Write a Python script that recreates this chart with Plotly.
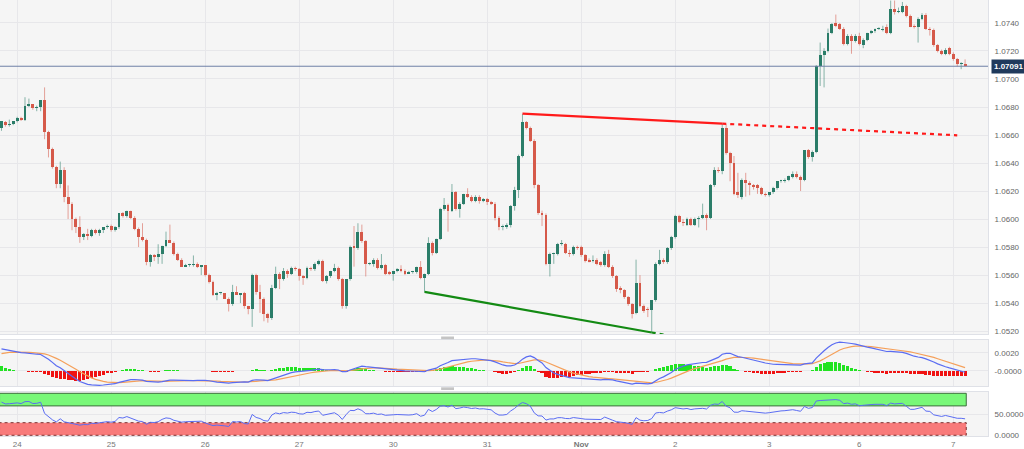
import plotly.graph_objects as go

# ---------------- hourly EUR/USD candles ----------------
opens = [
    1.0665, 1.0669, 1.0667, 1.0668, 1.0670, 1.0672, 1.0671, 1.0681, 1.0682, 1.0679,
    1.0680, 1.0685, 1.0662, 1.0650, 1.0637, 1.0625, 1.0635, 1.0616, 1.0611, 1.0600,
    1.0594, 1.0587, 1.0589, 1.0588, 1.0592, 1.0590, 1.0592, 1.0594, 1.0595, 1.0592,
    1.0594, 1.0604, 1.0602, 1.0606, 1.0601, 1.0593, 1.0587, 1.0585, 1.0569, 1.0574,
    1.0573, 1.0575, 1.0581, 1.0585, 1.0583, 1.0575, 1.0571, 1.0566, 1.0567, 1.0567,
    1.0568, 1.0566, 1.0567, 1.0560, 1.0555, 1.0546, 1.0547, 1.0547, 1.0543, 1.0539,
    1.0548, 1.0546, 1.0547, 1.0538, 1.0536, 1.0560, 1.0548, 1.0543, 1.0532, 1.0529,
    1.0551, 1.0561, 1.0557, 1.0563, 1.0561, 1.0565, 1.0564, 1.0559, 1.0558, 1.0565,
    1.0564, 1.0568, 1.0570, 1.0556, 1.0559, 1.0563, 1.0565, 1.0557, 1.0538, 1.0557,
    1.0581, 1.0579, 1.0591, 1.0584, 1.0568, 1.0568, 1.0571, 1.0565, 1.0567, 1.0562,
    1.0561, 1.0563, 1.0564, 1.0563, 1.0561, 1.0562, 1.0562, 1.0566, 1.0558, 1.0561,
    1.0583, 1.0576, 1.0586, 1.0607, 1.0610, 1.0606, 1.0619, 1.0607, 1.0611, 1.0618,
    1.0616, 1.0613, 1.0616, 1.0613, 1.0614, 1.0612, 1.0611, 1.0601, 1.0594, 1.0594,
    1.0596, 1.0609, 1.0621, 1.0645, 1.0669, 1.0665, 1.0656, 1.0624, 1.0604, 1.0603,
    1.0568, 1.0575, 1.0575, 1.0582, 1.0582, 1.0576, 1.0575, 1.0580, 1.0580, 1.0574,
    1.0571, 1.0570, 1.0571, 1.0569, 1.0567, 1.0575, 1.0566, 1.0559, 1.0551, 1.0549,
    1.0544, 1.0539, 1.0533, 1.0554, 1.0538, 1.0536, 1.0535, 1.0542, 1.0568, 1.0571,
    1.0569, 1.0579, 1.0587, 1.0602, 1.0598, 1.0596, 1.0600, 1.0596, 1.0600, 1.0601,
    1.0603, 1.0601, 1.0624, 1.0635, 1.0634, 1.0665, 1.0647, 1.0640, 1.0619, 1.0616,
    1.0628, 1.0626, 1.0624, 1.0624, 1.0622, 1.0618, 1.0617, 1.0619, 1.0622, 1.0627,
    1.0627, 1.0628, 1.0630, 1.0632, 1.0630, 1.0628, 1.0649, 1.0644, 1.0648, 1.0709,
    1.0717, 1.0720, 1.0733, 1.0740, 1.0739, 1.0736, 1.0725, 1.0731, 1.0727, 1.0731,
    1.0724, 1.0728, 1.0733, 1.0734, 1.0736, 1.0735, 1.0737, 1.0733, 1.0750, 1.0748,
    1.0748, 1.0752, 1.0745, 1.0738, 1.0737, 1.0743, 1.0746, 1.0736, 1.0735, 1.0724,
    1.0720, 1.0718, 1.0722, 1.0718, 1.0714, 1.0711, 1.0711,
]
highs = [
    1.0670, 1.0670, 1.0671, 1.0670, 1.0673, 1.0673, 1.0687, 1.0686, 1.0682, 1.0681,
    1.0685, 1.0694, 1.0663, 1.0651, 1.0638, 1.0641, 1.0637, 1.0624, 1.0612, 1.0601,
    1.0602, 1.0590, 1.0593, 1.0593, 1.0593, 1.0593, 1.0594, 1.0596, 1.0596, 1.0595,
    1.0604, 1.0605, 1.0606, 1.0606, 1.0602, 1.0594, 1.0597, 1.0586, 1.0575, 1.0575,
    1.0582, 1.0581, 1.0591, 1.0596, 1.0584, 1.0576, 1.0572, 1.0568, 1.0568, 1.0574,
    1.0569, 1.0567, 1.0567, 1.0561, 1.0556, 1.0548, 1.0548, 1.0547, 1.0544, 1.0553,
    1.0552, 1.0547, 1.0548, 1.0538, 1.0561, 1.0561, 1.0553, 1.0544, 1.0533, 1.0553,
    1.0566, 1.0562, 1.0565, 1.0564, 1.0566, 1.0566, 1.0565, 1.0560, 1.0566, 1.0566,
    1.0569, 1.0571, 1.0571, 1.0560, 1.0563, 1.0568, 1.0566, 1.0558, 1.0557, 1.0581,
    1.0595, 1.0597, 1.0596, 1.0585, 1.0569, 1.0572, 1.0572, 1.0575, 1.0568, 1.0563,
    1.0563, 1.0565, 1.0567, 1.0564, 1.0563, 1.0563, 1.0566, 1.0570, 1.0561, 1.0587,
    1.0584, 1.0586, 1.0608, 1.0615, 1.0611, 1.0625, 1.0620, 1.0612, 1.0618, 1.0622,
    1.0617, 1.0617, 1.0617, 1.0615, 1.0615, 1.0613, 1.0612, 1.0602, 1.0596, 1.0597,
    1.0610, 1.0623, 1.0646, 1.0675, 1.0670, 1.0666, 1.0657, 1.0625, 1.0606, 1.0604,
    1.0576, 1.0576, 1.0583, 1.0585, 1.0583, 1.0578, 1.0581, 1.0581, 1.0581, 1.0575,
    1.0572, 1.0574, 1.0572, 1.0570, 1.0577, 1.0578, 1.0567, 1.0560, 1.0552, 1.0550,
    1.0545, 1.0540, 1.0571, 1.0560, 1.0539, 1.0537, 1.0542, 1.0569, 1.0578, 1.0572,
    1.0580, 1.0588, 1.0603, 1.0603, 1.0600, 1.0601, 1.0601, 1.0601, 1.0602, 1.0611,
    1.0604, 1.0625, 1.0637, 1.0637, 1.0668, 1.0668, 1.0648, 1.0645, 1.0633, 1.0629,
    1.0633, 1.0627, 1.0625, 1.0625, 1.0623, 1.0619, 1.0619, 1.0623, 1.0627, 1.0628,
    1.0629, 1.0631, 1.0634, 1.0634, 1.0631, 1.0649, 1.0650, 1.0649, 1.0710, 1.0726,
    1.0722, 1.0736, 1.0740, 1.0746, 1.0740, 1.0737, 1.0732, 1.0732, 1.0732, 1.0733,
    1.0729, 1.0733, 1.0735, 1.0736, 1.0737, 1.0738, 1.0739, 1.0756, 1.0756, 1.0751,
    1.0755, 1.0753, 1.0746, 1.0739, 1.0744, 1.0747, 1.0747, 1.0737, 1.0736, 1.0725,
    1.0721, 1.0722, 1.0723, 1.0719, 1.0715, 1.0712, 1.0714,
]
lows = [
    1.0663, 1.0666, 1.0666, 1.0667, 1.0669, 1.0670, 1.0670, 1.0680, 1.0678, 1.0677,
    1.0677, 1.0657, 1.0644, 1.0636, 1.0622, 1.0622, 1.0612, 1.0600, 1.0592, 1.0590,
    1.0583, 1.0585, 1.0585, 1.0587, 1.0589, 1.0588, 1.0590, 1.0593, 1.0591, 1.0591,
    1.0593, 1.0601, 1.0601, 1.0600, 1.0592, 1.0580, 1.0584, 1.0567, 1.0566, 1.0570,
    1.0568, 1.0568, 1.0580, 1.0583, 1.0574, 1.0570, 1.0566, 1.0566, 1.0566, 1.0566,
    1.0565, 1.0560, 1.0559, 1.0554, 1.0545, 1.0542, 1.0546, 1.0543, 1.0534, 1.0538,
    1.0546, 1.0540, 1.0536, 1.0532, 1.0523, 1.0546, 1.0533, 1.0527, 1.0526, 1.0528,
    1.0550, 1.0550, 1.0556, 1.0558, 1.0560, 1.0563, 1.0556, 1.0553, 1.0557, 1.0563,
    1.0563, 1.0567, 1.0555, 1.0554, 1.0558, 1.0562, 1.0556, 1.0536, 1.0536, 1.0556,
    1.0566, 1.0578, 1.0583, 1.0559, 1.0567, 1.0566, 1.0564, 1.0564, 1.0560, 1.0560,
    1.0556, 1.0562, 1.0562, 1.0560, 1.0561, 1.0561, 1.0561, 1.0557, 1.0548, 1.0560,
    1.0574, 1.0575, 1.0585, 1.0606, 1.0591, 1.0605, 1.0606, 1.0601, 1.0610, 1.0615,
    1.0612, 1.0612, 1.0611, 1.0612, 1.0610, 1.0610, 1.0599, 1.0592, 1.0592, 1.0593,
    1.0594, 1.0606, 1.0615, 1.0644, 1.0664, 1.0655, 1.0622, 1.0603, 1.0595, 1.0567,
    1.0559, 1.0568, 1.0574, 1.0581, 1.0575, 1.0573, 1.0574, 1.0578, 1.0573, 1.0569,
    1.0569, 1.0569, 1.0567, 1.0566, 1.0566, 1.0565, 1.0558, 1.0548, 1.0547, 1.0543,
    1.0538, 1.0529, 1.0532, 1.0537, 1.0533, 1.0530, 1.0519, 1.0541, 1.0567, 1.0568,
    1.0568, 1.0578, 1.0586, 1.0597, 1.0595, 1.0595, 1.0595, 1.0595, 1.0594, 1.0600,
    1.0592, 1.0600, 1.0623, 1.0633, 1.0632, 1.0646, 1.0627, 1.0617, 1.0615, 1.0614,
    1.0616, 1.0617, 1.0621, 1.0618, 1.0617, 1.0616, 1.0616, 1.0618, 1.0621, 1.0626,
    1.0626, 1.0627, 1.0629, 1.0629, 1.0620, 1.0627, 1.0643, 1.0641, 1.0647, 1.0695,
    1.0694, 1.0719, 1.0732, 1.0737, 1.0735, 1.0724, 1.0724, 1.0718, 1.0726, 1.0724,
    1.0722, 1.0727, 1.0732, 1.0733, 1.0735, 1.0734, 1.0732, 1.0732, 1.0746, 1.0747,
    1.0747, 1.0744, 1.0737, 1.0736, 1.0726, 1.0742, 1.0735, 1.0731, 1.0723, 1.0719,
    1.0717, 1.0717, 1.0717, 1.0713, 1.0709, 1.0707, 1.0709,
]
closes = [
    1.0670, 1.0667, 1.0668, 1.0670, 1.0672, 1.0671, 1.0681, 1.0682, 1.0679, 1.0680,
    1.0685, 1.0662, 1.0650, 1.0637, 1.0625, 1.0635, 1.0616, 1.0611, 1.0600, 1.0594,
    1.0587, 1.0589, 1.0588, 1.0592, 1.0590, 1.0592, 1.0594, 1.0595, 1.0592, 1.0594,
    1.0604, 1.0602, 1.0606, 1.0601, 1.0593, 1.0587, 1.0585, 1.0569, 1.0574, 1.0573,
    1.0575, 1.0581, 1.0585, 1.0583, 1.0575, 1.0571, 1.0566, 1.0567, 1.0567, 1.0568,
    1.0566, 1.0567, 1.0560, 1.0555, 1.0546, 1.0547, 1.0547, 1.0543, 1.0539, 1.0548,
    1.0546, 1.0547, 1.0538, 1.0536, 1.0560, 1.0548, 1.0543, 1.0532, 1.0529, 1.0551,
    1.0561, 1.0557, 1.0563, 1.0561, 1.0565, 1.0564, 1.0559, 1.0558, 1.0565, 1.0564,
    1.0568, 1.0570, 1.0556, 1.0559, 1.0563, 1.0565, 1.0557, 1.0538, 1.0557, 1.0580,
    1.0579, 1.0591, 1.0584, 1.0568, 1.0568, 1.0571, 1.0565, 1.0567, 1.0561, 1.0561,
    1.0563, 1.0564, 1.0563, 1.0561, 1.0562, 1.0563, 1.0566, 1.0558, 1.0561, 1.0583,
    1.0576, 1.0586, 1.0607, 1.0610, 1.0606, 1.0619, 1.0607, 1.0611, 1.0618, 1.0616,
    1.0613, 1.0616, 1.0613, 1.0614, 1.0612, 1.0611, 1.0601, 1.0594, 1.0594, 1.0596,
    1.0609, 1.0621, 1.0645, 1.0669, 1.0665, 1.0656, 1.0624, 1.0604, 1.0603, 1.0568,
    1.0575, 1.0575, 1.0582, 1.0582, 1.0576, 1.0575, 1.0580, 1.0579, 1.0574, 1.0570,
    1.0569, 1.0571, 1.0568, 1.0567, 1.0575, 1.0566, 1.0559, 1.0550, 1.0549, 1.0544,
    1.0539, 1.0532, 1.0554, 1.0538, 1.0534, 1.0535, 1.0542, 1.0568, 1.0571, 1.0569,
    1.0579, 1.0587, 1.0602, 1.0598, 1.0597, 1.0600, 1.0596, 1.0600, 1.0601, 1.0603,
    1.0601, 1.0624, 1.0635, 1.0634, 1.0665, 1.0647, 1.0640, 1.0618, 1.0617, 1.0628,
    1.0626, 1.0624, 1.0623, 1.0622, 1.0618, 1.0617, 1.0619, 1.0622, 1.0627, 1.0627,
    1.0628, 1.0631, 1.0632, 1.0630, 1.0628, 1.0649, 1.0644, 1.0648, 1.0709, 1.0717,
    1.0720, 1.0733, 1.0739, 1.0738, 1.0736, 1.0725, 1.0731, 1.0727, 1.0731, 1.0725,
    1.0728, 1.0733, 1.0734, 1.0736, 1.0736, 1.0736, 1.0733, 1.0750, 1.0748, 1.0748,
    1.0752, 1.0745, 1.0737, 1.0737, 1.0743, 1.0746, 1.0736, 1.0735, 1.0724, 1.0720,
    1.0718, 1.0721, 1.0718, 1.0714, 1.0711, 1.0711, 1.07091,
]

# day separators (bar index of each day's first candle) and their labels
day_ticks = [4, 28, 52, 76, 100, 124, 148, 172, 196, 219, 243]
day_labels = ["24", "25", "26", "27", "30", "31", "<b>Nov</b>", "2", "3", "6", "7"]

price_ticks = [1.0520, 1.0540, 1.0560, 1.0580, 1.0600, 1.0620,
               1.0640, 1.0660, 1.0680, 1.0700, 1.0720, 1.0740]
last_price = 1.07091

# analyst trend lines
resist_x = [133, 184]
resist_y = [1.06752, 1.06681]
resist_ext_x = [184, 244]
resist_ext_y = [1.06681, 1.06598]
support_x = [108, 166]
support_y = [1.0548, 1.0519]
support_ext_x = [166, 244]
support_ext_y = [1.0519, 1.0480]

# indicator settings and the indicator state before the first visible bar
macd_fast, macd_slow, macd_signal = 12, 26, 9
ema_fast_seed, ema_slow_seed, signal_seed = 1.0653, 1.0628, 0.0018
rsi_period = 14
rsi_gain_seed, rsi_loss_seed = 0.00030, 0.00009
rsi_high, rsi_low = 70, 30

# ---------------- indicators derived from the closes ----------------
n = len(closes)
idx = list(range(n))

a_f, a_s, a_g = 2 / (macd_fast + 1), 2 / (macd_slow + 1), 2 / (macd_signal + 1)
ef, es, sg = ema_fast_seed, ema_slow_seed, signal_seed
macd, signal, hist = [], [], []
for c in closes:
    ef += a_f * (c - ef)
    es += a_s * (c - es)
    m = ef - es
    sg += a_g * (m - sg)
    macd.append(m)
    signal.append(sg)
    hist.append(m - sg)

rsi = []
ag, al = rsi_gain_seed, rsi_loss_seed
prev = opens[0]
for c in closes:
    ch = c - prev
    ag = (ag * (rsi_period - 1) + max(ch, 0)) / rsi_period
    al = (al * (rsi_period - 1) + max(-ch, 0)) / rsi_period
    rsi.append(100 - 100 / (1 + ag / al) if al > 0 else 100)
    prev = c

# ---------------- figure ----------------
UP, DOWN = "#2b7d69", "#d65a4a"
UP_WICK, DOWN_WICK = "rgba(43,125,105,0.55)", "rgba(214,90,74,0.55)"
GRID = "#e7e7ea"
AXLINE = "#dfe1e7"
FONT = "Liberation Sans, Arial, sans-serif"
MIN_BODY = 0.00007

fig = go.Figure()

# wicks
for up, col in ((True, UP_WICK), (False, DOWN_WICK)):
    wx, wy = [], []
    for i in idx:
        if (closes[i] >= opens[i]) == up:
            wx += [i, i, None]
            wy += [lows[i], highs[i], None]
    fig.add_trace(go.Scatter(x=wx, y=wy, mode="lines", line=dict(color=col, width=1),
                             hoverinfo="skip", xaxis="x", yaxis="y"))

# bodies
for up, col in ((True, UP), (False, DOWN)):
    bx, bb, bh = [], [], []
    for i in idx:
        if (closes[i] >= opens[i]) == up:
            bx.append(i)
            bb.append(min(opens[i], closes[i]))
            bh.append(max(abs(closes[i] - opens[i]), MIN_BODY))
    fig.add_trace(go.Bar(x=bx, y=bh, base=bb, width=0.74, marker=dict(color=col, line=dict(width=0)),
                         xaxis="x", yaxis="y"))

# trend lines
fig.add_trace(go.Scatter(x=resist_x, y=resist_y, mode="lines", line=dict(color="#ff1a1a", width=2.2),
                         xaxis="x", yaxis="y"))
fig.add_trace(go.Scatter(x=resist_ext_x, y=resist_ext_y, mode="lines",
                         line=dict(color="#ff1a1a", width=2.2, dash="4px,4px"), xaxis="x", yaxis="y"))
fig.add_trace(go.Scatter(x=support_x, y=support_y, mode="lines", line=dict(color="#138a13", width=2.2),
                         xaxis="x", yaxis="y"))
fig.add_trace(go.Scatter(x=support_ext_x, y=support_ext_y, mode="lines",
                         line=dict(color="#138a13", width=2.2, dash="4px,4px"), xaxis="x", yaxis="y"))

# MACD panel
fig.add_trace(go.Bar(x=idx, y=hist, width=0.8,
                     marker=dict(color=["#22e322" if h >= 0 else "#f01212" for h in hist], line=dict(width=0)),
                     xaxis="x2", yaxis="y2"))
fig.add_trace(go.Scatter(x=idx, y=signal, mode="lines", line=dict(color="#f5a05a", width=1.2),
                         xaxis="x2", yaxis="y2"))
fig.add_trace(go.Scatter(x=idx, y=macd, mode="lines", line=dict(color="#5a6cf2", width=1.2),
                         xaxis="x2", yaxis="y2"))

# RSI panel
fig.add_trace(go.Scatter(x=idx, y=rsi, mode="lines", line=dict(color="#5a6cf2", width=1),
                         xaxis="x3", yaxis="y3"))

band_x0, band_x1 = idx[0] - 0.5, idx[-1] + 0.3
shapes = [
    dict(type="rect", xref="x3", yref="y3", x0=band_x0, x1=band_x1, y0=rsi_high, y1=100,
         fillcolor="#78f878", line=dict(color="#3d6e3d", width=1), layer="between"),
    dict(type="rect", xref="x3", yref="y3", x0=band_x0, x1=band_x1, y0=0, y1=rsi_low,
         fillcolor="#f87a7a", line=dict(color="#7a3030", width=1, dash="dot"), layer="between"),
    dict(type="line", xref="paper", yref="y", x0=0, x1=1, y0=last_price, y1=last_price,
         line=dict(color="#6f80a6", width=1)),
    # panel resize handles
    dict(type="rect", xref="paper", yref="paper", x0=0.4465, x1=0.4595, y0=0.2220, y1=0.2282,
         fillcolor="#c4c4c4", line=dict(width=0)),
    dict(type="rect", xref="paper", yref="paper", x0=0.4465, x1=0.4595, y0=0.1055, y1=0.1117,
         fillcolor="#c4c4c4", line=dict(width=0)),
]

xcommon = dict(range=[-0.38, 251.85], tickvals=day_ticks, ticktext=day_labels, showgrid=True,
               gridcolor=GRID, gridwidth=1, zeroline=False, showline=True, linecolor=AXLINE,
               mirror=True, ticks="", fixedrange=True)
ycommon = dict(side="right", showgrid=True, gridcolor=GRID, zeroline=False, showline=True,
               linecolor=AXLINE, mirror=True, ticks="", ticklabelstandoff=4,
               tickfont=dict(size=8, color="#666666", family=FONT))

fig.update_layout(
    width=1024, height=449,
    margin=dict(l=0, r=36, t=0, b=13),
    paper_bgcolor="#ffffff", plot_bgcolor="#f5f5f5",
    showlegend=False, barmode="overlay", bargap=0,
    xaxis=dict(**xcommon, domain=[0, 1], anchor="y", showticklabels=False),
    xaxis2=dict(**xcommon, domain=[0, 1], anchor="y2", matches="x", showticklabels=False),
    xaxis3=dict(**xcommon, domain=[0, 1], anchor="y3", matches="x", showticklabels=True,
                tickfont=dict(size=8, color="#777777", family=FONT)),
    yaxis=dict(**ycommon, domain=[0.2339, 1], anchor="x", range=[1.05179, 1.07564],
               tickvals=price_ticks, tickformat=".4f"),
    yaxis2=dict(**ycommon, domain=[0.1147, 0.2202], anchor="x2", range=[-0.00167, 0.00344],
                tickvals=[0.002, 0.0], ticktext=["0.0020", "-0.0000"]),
    yaxis3=dict(**ycommon, domain=[0, 0.1016], anchor="x3", range=[-1.7, 103.8],
                tickvals=[50, 0], ticktext=["50.0000", "0.0000"]),
    shapes=shapes,
    annotations=[dict(xref="paper", yref="y", x=1, y=last_price, xanchor="left", xshift=3,
                      text="<b>%.5f</b>" % last_price, showarrow=False, bgcolor="#1f3a5c",
                      borderpad=2, font=dict(size=8, color="#ffffff", family=FONT))],
)

fig.write_html("out.html",
               config={"displayModeBar": False, "staticPlot": True},
               post_script="document.body.style.margin='0';document.body.style.padding='0';"
                           "document.body.style.overflow='hidden';")
